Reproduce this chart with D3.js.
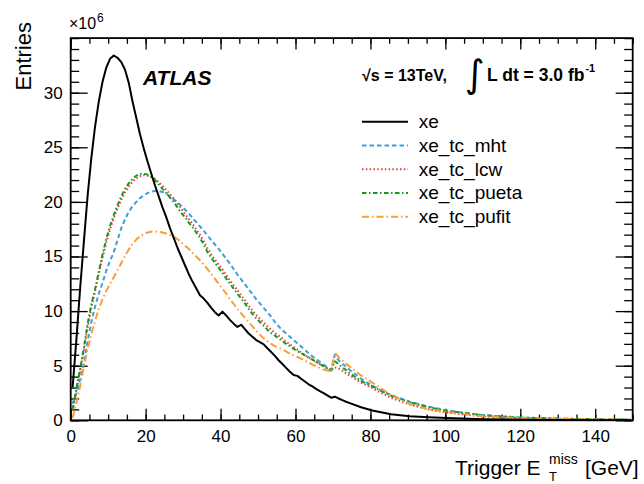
<!DOCTYPE html>
<html>
<head>
<meta charset="utf-8">
<script src="https://cdn.jsdelivr.net/npm/d3@7"></script>
<style>
  body { margin: 0; background: #fff; }
  svg { display: block; font-family: "Liberation Sans", Arial, Helvetica, sans-serif; }
</style>
</head>
<body>
<svg id="chart" width="644" height="484"></svg>
<script>
// bin centres (GeV)
const xBins = [0.5,1.5,2.5,3.5,4.5,5.5,6.5,7.5,8.5,9.5,
  10.5,11.5,12.5,13.5,14.5,15.5,16.5,17.5,18.5,19.5,
  20.5,21.5,22.5,23.5,24.5,25.5,26.5,27.5,28.5,29.5,
  30.5,31.5,32.5,33.5,34.5,35.5,36.5,37.5,38.5,39.5,
  40.5,41.5,42.5,43.5,44.5,45.5,46.5,47.5,48.5,49.5,
  50.5,51.5,52.5,53.5,54.5,55.5,56.5,57.5,58.5,59.5,
  60.5,61.5,62.5,63.5,64.5,65.5,66.5,67.5,68.5,69.5,
  70.5,71.5,72.5,73.5,74.5,
  77.5,80.5,85.5,90.5,95.5,100.5,110.5,120.5,130.5,140.5,149.5];

// entries in units of 10^6
const xeVals = [3.0,7.3,12.0,16.3,20.5,24.0,26.9,29.2,31.0,32.3,
  33.1,33.4,33.2,32.8,32.1,30.9,29.2,27.7,26.2,24.9,
  23.7,22.6,21.5,20.5,19.5,18.6,17.6,16.7,15.8,15.0,
  14.2,13.4,12.7,12.1,11.45,11.15,10.75,10.3,9.9,9.6,
  9.95,9.6,9.2,8.85,8.55,8.75,8.35,7.95,7.65,7.35,
  7.15,6.95,6.6,6.25,5.9,5.5,5.15,4.8,4.45,4.15,
  4.07,3.8,3.55,3.3,3.1,2.88,2.68,2.48,2.28,2.07,
  2.16,2.0,1.85,1.7,1.57,
  1.2,0.9,0.55,0.38,0.28,0.2,0.1,0.05,0.025,0.015,0.01];

const mhtVals = [1.5,2.5,3.7,5.2,7.2,9.0,10.4,11.6,12.6,13.7,
  14.6,15.4,16.5,17.6,18.4,19.1,19.6,20.0,20.35,20.6,
  20.8,20.95,21.0,21.0,20.9,20.75,20.5,20.25,19.95,19.65,
  19.3,18.95,18.55,18.15,17.75,17.35,16.95,16.5,16.1,15.7,
  15.25,14.8,14.35,13.85,13.35,12.9,12.45,12.0,11.55,11.1,
  10.7,10.3,9.9,9.5,9.0,8.6,8.25,7.95,7.65,7.35,
  7.05,6.75,6.45,6.15,5.85,5.6,5.35,5.1,4.85,4.6,
  6.0,5.5,5.2,4.9,4.6,
  3.8,3.15,2.3,1.7,1.25,0.9,0.45,0.25,0.15,0.09,0.06];

const lcwVals = [0.9,2.7,4.5,6.4,8.5,10.3,11.8,13.4,14.9,16.3,
  17.5,18.5,19.4,20.2,20.9,21.4,21.85,22.15,22.35,22.45,
  22.4,22.3,22.1,21.8,21.45,21.1,20.7,20.3,19.85,19.4,
  18.9,18.45,18.0,17.5,17.0,16.4,15.75,15.2,14.7,14.25,
  13.8,13.3,12.8,12.35,11.9,11.45,11.0,10.5,10.05,9.65,
  9.3,8.95,8.6,8.3,8.0,7.75,7.5,7.2,6.95,6.7,
  6.45,6.2,5.98,5.77,5.56,5.35,5.15,4.95,4.75,4.55,
  4.85,4.75,4.55,4.3,4.1,
  3.45,2.95,2.05,1.45,1.0,0.7,0.35,0.18,0.1,0.06,0.04];

const puetaVals = [1.0,2.9,4.7,6.6,8.8,10.6,12.0,13.6,15.2,16.6,
  17.8,18.8,19.7,20.5,21.2,21.7,22.1,22.4,22.55,22.6,
  22.5,22.3,22.0,21.6,21.2,20.8,20.4,20.0,19.5,19.0,
  18.6,18.1,17.7,17.2,16.7,16.1,15.4,14.9,14.4,13.95,
  13.5,13.0,12.5,12.05,11.6,11.15,10.7,10.2,9.75,9.35,
  9.0,8.65,8.3,8.0,7.75,7.5,7.25,7.0,6.8,6.55,
  6.35,6.15,5.95,5.75,5.55,5.35,5.15,4.95,4.75,4.55,
  5.4,5.15,4.85,4.6,4.3,
  3.6,3.1,2.25,1.65,1.2,0.85,0.45,0.25,0.15,0.09,0.06];

const pufitVals = [0.2,1.6,3.1,4.9,6.5,7.9,9.1,10.2,11.1,11.85,
  12.5,13.1,13.75,14.4,15.05,15.65,16.15,16.55,16.85,17.05,
  17.2,17.27,17.3,17.25,17.2,17.1,16.95,16.8,16.6,16.3,
  16.0,15.7,15.35,15.0,14.65,14.25,13.85,13.4,12.95,12.5,
  12.05,11.6,11.1,10.65,10.2,9.8,9.4,9.0,8.6,8.2,
  7.85,7.5,7.25,7.0,6.8,6.65,6.5,6.3,6.1,5.95,
  5.8,5.65,5.45,5.3,5.1,4.95,4.8,4.65,4.55,4.45,
  6.2,5.8,5.5,5.2,4.9,
  4.1,3.45,2.3,1.5,1.0,0.75,0.35,0.2,0.12,0.08,0.05];

const seriesNames = ["xe", "xe_tc_mht", "xe_tc_lcw", "xe_tc_pueta", "xe_tc_pufit"];
const seriesVals = [xeVals, mhtVals, lcwVals, puetaVals, pufitVals];
const xMajor = [0,20,40,60,80,100,120,140];
const yMajor = [0,5,10,15,20,25,30];

const styles = {
  "xe":          {color: "#000000", dash: null,           width: 2},
  "xe_tc_mht":   {color: "#3d9fd8", dash: "4.5,3",        width: 2},
  "xe_tc_lcw":   {color: "#e3403f", dash: "1.5,2.3",      width: 2},
  "xe_tc_pueta": {color: "#17991b", dash: "4.5,2.5,1.5,2.5", width: 2},
  "xe_tc_pufit": {color: "#ff9a35", dash: "7,3,1.5,3",    width: 2}
};

const svg = d3.select("#chart");
const L = 70.7, R = 632.7, T = 38.1, B = 420.3;

const x = d3.scaleLinear().domain([0,150]).range([L,R]);
const y = d3.scaleLinear().domain([0,35]).range([B,T]);

svg.append("clipPath").attr("id","clip")
   .append("rect").attr("x",L).attr("y",T).attr("width",R-L).attr("height",B-T);

// axes: ticks pointing inward, mirrored on top/right
function axisStyle(g){ g.select(".domain").remove(); g.selectAll("line").attr("stroke","#000").attr("stroke-width",1.3); }

svg.append("g").attr("transform",`translate(0,${B})`)
   .call(d3.axisBottom(x).tickValues(d3.range(0,151,5)).tickSize(-5.7).tickFormat(""))
   .call(axisStyle);
svg.append("g").attr("transform",`translate(0,${B})`)
   .call(d3.axisBottom(x).tickValues(xMajor).tickSize(-11.5).tickPadding(10).tickFormat(d3.format("d")))
   .call(axisStyle)
   .selectAll("text").attr("font-size",17).attr("fill","#000");
svg.append("g").attr("transform",`translate(0,${T})`)
   .call(d3.axisTop(x).tickValues(d3.range(0,151,5)).tickSize(-5.7).tickFormat(""))
   .call(axisStyle);
svg.append("g").attr("transform",`translate(0,${T})`)
   .call(d3.axisTop(x).tickValues(xMajor).tickSize(-11.5).tickFormat(""))
   .call(axisStyle);

svg.append("g").attr("transform",`translate(${L},0)`)
   .call(d3.axisLeft(y).tickValues(d3.range(0,36,1)).tickSize(-8.5).tickFormat(""))
   .call(axisStyle);
svg.append("g").attr("transform",`translate(${L},0)`)
   .call(d3.axisLeft(y).tickValues(yMajor).tickSize(-17).tickPadding(8).tickFormat(d3.format("d")))
   .call(axisStyle)
   .selectAll("text").attr("font-size",17).attr("fill","#000");
svg.append("g").attr("transform",`translate(${R},0)`)
   .call(d3.axisRight(y).tickValues(d3.range(0,36,1)).tickSize(-8.5).tickFormat(""))
   .call(axisStyle);
svg.append("g").attr("transform",`translate(${R},0)`)
   .call(d3.axisRight(y).tickValues(yMajor).tickSize(-17).tickFormat(""))
   .call(axisStyle);

// curves
const line = d3.line().x(d => x(d[0])).y(d => y(d[1]));
const plot = svg.append("g").attr("clip-path","url(#clip)");
const order = [1,2,3,4,0];
order.forEach(i => {
  const name = seriesNames[i];
  const st = styles[name];
  plot.append("path")
      .datum(xBins.map((b,j) => [b, seriesVals[i][j]]))
      .attr("d", line)
      .attr("fill","none")
      .attr("stroke", st.color)
      .attr("stroke-width", st.width)
      .attr("stroke-dasharray", st.dash)
      .attr("stroke-linejoin","round");
});

// frame
svg.append("rect").attr("x",L).attr("y",T).attr("width",R-L).attr("height",B-T)
   .attr("fill","none").attr("stroke","#000").attr("stroke-width",1.8);

// axis titles
svg.append("text").attr("transform","translate(31,22) rotate(-90)")
   .attr("text-anchor","end").attr("font-size",22).text("Entries");
svg.append("text").attr("x",69).attr("y",29).attr("font-size",16).text("×10");
svg.append("text").attr("x",97).attr("y",22).attr("font-size",12).text("6");

svg.append("text").attr("x",455).attr("y",475).attr("font-size",21).text("Trigger E");
svg.append("text").attr("x",549).attr("y",464).attr("font-size",14).text("miss");
svg.append("text").attr("x",549).attr("y",481).attr("font-size",13).text("T");
svg.append("text").attr("x",585).attr("y",475).attr("font-size",21).text("[GeV]");

// labels
svg.append("text").attr("x",143).attr("y",85).attr("font-size",21)
   .attr("font-weight","bold").attr("font-style","italic").text("ATLAS");
svg.append("text").attr("x",362).attr("y",81).attr("font-size",16)
   .attr("font-weight","bold").text("√s = 13TeV,");
svg.append("text").attr("x",465).attr("y",87).attr("font-size",38)
   .attr("font-family","DejaVu Sans").text("∫");
const lumi = svg.append("text").attr("x",487).attr("y",81).attr("font-size",17.5)
   .attr("font-weight","bold").text("L dt = 3.0 fb");
const lumiEnd = 487 + lumi.node().getComputedTextLength();
svg.append("text").attr("x",lumiEnd + 1).attr("y",72).attr("font-size",11)
   .attr("font-weight","bold").text("-1");

// legend
const legY = d3.scaleBand().domain(seriesNames).range([110, 228.5]);
const leg = svg.append("g");
seriesNames.forEach(name => {
  const st = styles[name];
  const cy = legY(name) + legY.bandwidth()/2;
  leg.append("line").attr("x1",362).attr("x2",408).attr("y1",cy).attr("y2",cy)
     .attr("stroke",st.color).attr("stroke-width",st.width).attr("stroke-dasharray",st.dash);
  leg.append("text").attr("x",418.7).attr("y",cy+6.5).attr("font-size",19).text(name);
});
</script>
</body>
</html>
